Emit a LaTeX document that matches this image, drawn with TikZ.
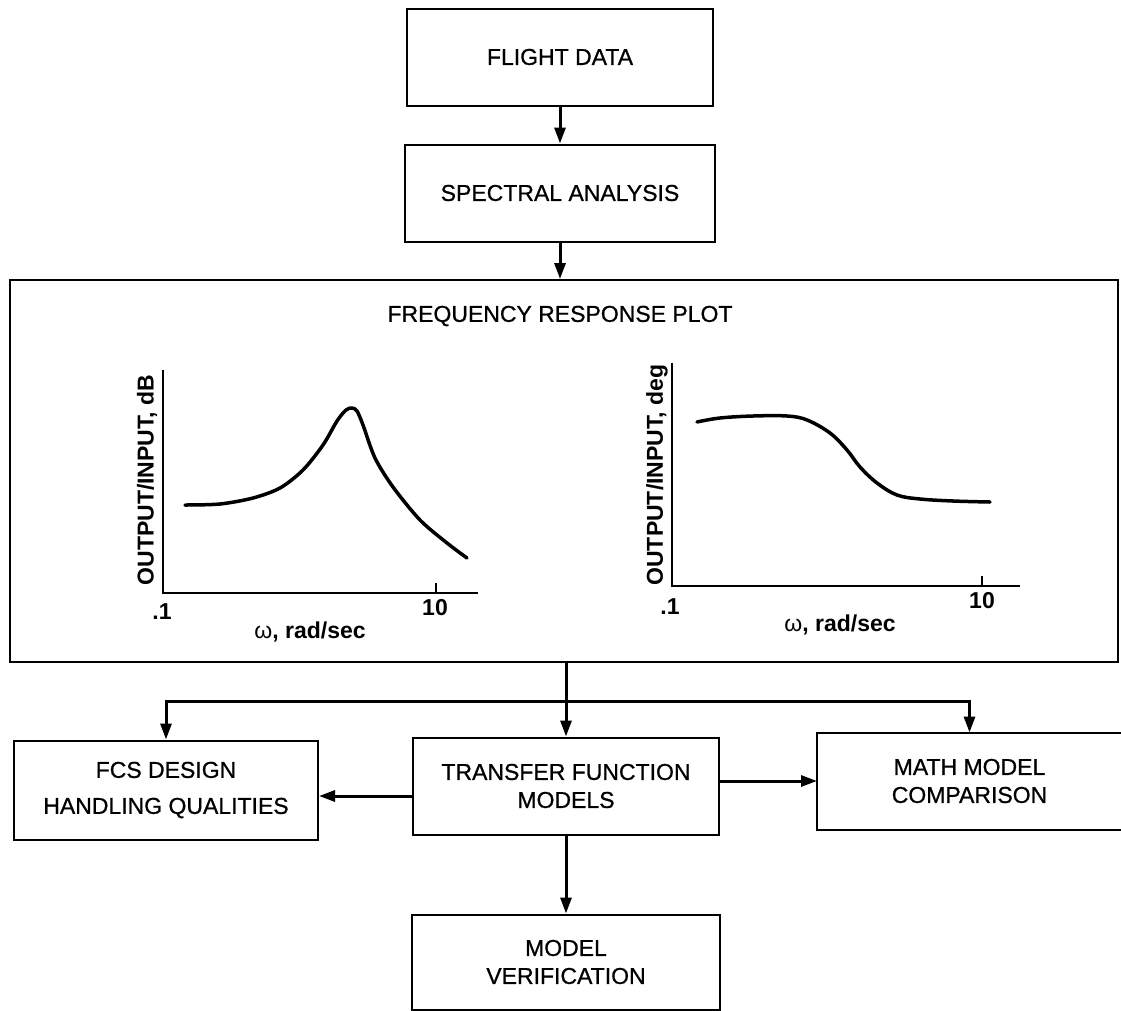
\documentclass[tikz,border=0pt]{standalone}
\usepackage{fontspec}
\setmainfont{Liberation Sans}
\newfontfamily\boxfont{Liberation Sans}[FakeBold=0.8]
\usetikzlibrary{arrows.meta,positioning}
\begin{document}
\begin{tikzpicture}[x=1pt,y=-1pt]
%pixel-like coordinates, y grows downwards
\tikzstyle{block}=[draw, line width=2pt, minimum width=306pt, minimum height=97pt, inner sep=0pt, align=center, font=\boxfont\fontsize{23}{28}\selectfont]
\tikzstyle{link}=[-{Triangle[length=16pt,width=11pt]}, line width=3pt]
\tikzstyle{axis}=[line width=2pt]
\tikzstyle{curve}=[line width=3.5pt, line cap=round, line join=round]
\tikzstyle{lbl}=[inner sep=0pt, font=\fontsize{23}{28}\selectfont\bfseries]
\useasboundingbox (0,0) rectangle (1121,1010);
\node[block](flight) at (560,57) {FLIGHT DATA};
\node[block, minimum width=310pt](spectral) [below = 37pt of flight] {SPECTRAL ANALYSIS};
\node[draw, line width=2pt, minimum width=1108pt, minimum height=382pt, inner sep=0pt](plot) at (564,471) {};
\node[inner sep=0pt, font=\boxfont\fontsize{23}{28}\selectfont](title) at (560,316) {FREQUENCY RESPONSE PLOT};
%magnitude plot
\draw[axis] (163,370) |- (478,593);
\draw[axis] (436,593) -- (436,583);
\node[lbl, rotate=90](ylabA) at (147,480) {OUTPUT/INPUT, dB};
\node[lbl](loA) at (162,612) {.1};
\node[lbl](hiA) at (435,608) {10};
\node[lbl](xlabA) at (310,632) {{\mdseries ω}, rad/sec};
\draw[curve] plot[smooth, tension=0.5] coordinates {(185,505) (220,504) (253,498) (280,488) (303,470) (323,445) (337,421) (346,410) (352,408) (357,411) (363,425) (375,458) (393,487) (420,520) (447,543) (467,558)};
%phase plot
\draw[axis] (672,363) |- (1020,586);
\draw[axis] (982,586) -- (982,576);
\node[lbl, rotate=90](ylabB) at (657,475) {OUTPUT/INPUT, deg};
\node[lbl](loB) at (670,607) {.1};
\node[lbl](hiB) at (982,601) {10};
\node[lbl](xlabB) at (840,625) {{\mdseries ω}, rad/sec};
\draw[curve] plot[smooth, tension=0.6] coordinates {(697,422) (720,418) (753,416) (787,416) (807,420) (830,433) (847,450) (860,467) (877,483) (897,495) (920,499) (953,501) (990,502)};
%lower boxes
\node[block](tf) at (566,786) {TRANSFER FUNCTION\\MODELS};
\node[block, minimum width=304pt, minimum height=99pt](fcs) at (166,790) {FCS DESIGN\\[8pt]HANDLING QUALITIES};
\node[block, draw=none, minimum width=303pt, minimum height=95pt](math) at (969.5,781) {MATH MODEL\\COMPARISON};
\draw[line width=2pt] (math.north east) -- (math.north west) -- (math.south west) -- (math.south east);
\node[block, minimum width=308pt, minimum height=95pt](verif) [below = 78pt of tf] {MODEL\\VERIFICATION};
\coordinate (bus) at (566,701);
\draw[link] (flight) -- (spectral);
\draw[link] (spectral.south) -- (spectral.south |- plot.north);
\draw[link] (tf.north |- plot.south) -- (tf.north);
\draw[link] (bus) -| (fcs.north);
\draw[link] (bus) -| (math.north);
\draw[link] ([yshift=-10pt]tf.west) -- ([yshift=-10pt]tf.west -| fcs.east);
\draw[link] (tf.east |- math.west) -- (math.west);
\draw[link] (tf) -- (verif);
\end{tikzpicture}
\end{document}
